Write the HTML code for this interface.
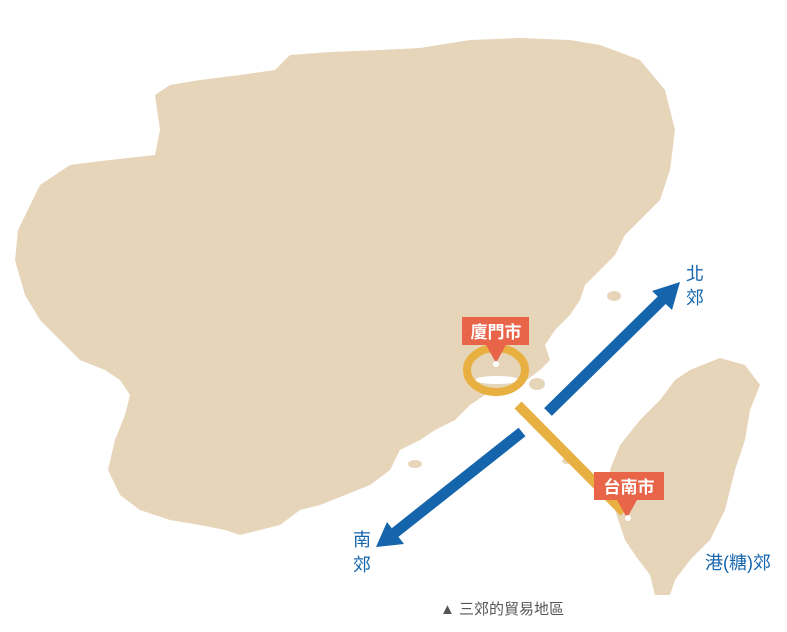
<!DOCTYPE html>
<html><head><meta charset="utf-8"><style>
body{margin:0;background:#fff;}
svg text{font-family:"Liberation Sans","Noto Sans CJK TC",sans-serif;}
</style></head><body>
<svg width="787" height="627" viewBox="0 0 787 627" xmlns="http://www.w3.org/2000/svg">
<g fill="#e6d5b9">
<polygon points="40,185 70,165 110,160 155,155 160,130 155,95 170,85 200,80 240,75 275,70 290,55 330,52 380,50 420,48 470,40 520,38 570,40 600,45 640,60 665,90 675,130 670,170 660,200 640,220 625,235 615,255 600,270 585,285 580,300 570,315 555,330 545,345 550,360 540,370 520,385 500,390 485,395 470,405 455,420 435,430 420,440 400,450 390,470 370,485 345,495 320,505 300,510 280,525 260,530 240,535 225,530 200,525 170,520 140,510 120,495 108,470 115,440 125,415 130,395 120,380 105,370 80,360 60,340 40,320 25,295 15,260 18,230"/>
<polygon points="690,370 720,358 745,365 760,385 750,410 745,440 735,470 725,510 710,540 690,560 675,580 670,595 655,595 650,575 635,555 625,540 615,510 610,470 620,445 640,420 660,400 675,380"/>
<ellipse cx="614" cy="296" rx="7" ry="5"/>
<ellipse cx="537" cy="384" rx="8" ry="6"/>
<ellipse cx="415" cy="464" rx="7" ry="4"/>
<ellipse cx="567" cy="461" rx="5" ry="3"/>
</g>
<ellipse cx="497" cy="380" rx="22" ry="4" fill="#fff"/>
<ellipse cx="496" cy="370" rx="29" ry="22" fill="none" stroke="#e8b040" stroke-width="8"/>
<line x1="518" y1="405" x2="624" y2="512" stroke="#e8b040" stroke-width="10"/>
<g fill="#1565ad" stroke="#1565ad">
<line x1="548" y1="412" x2="665" y2="297" stroke-width="11"/>
<polygon points="680,282 652,291 672,310" stroke="none"/>
<line x1="522" y1="432" x2="392" y2="535" stroke-width="11"/>
<polygon points="376,547 404,544 387,522" stroke="none"/>
</g>
<g fill="#e8654a">
<rect x="462" y="317" width="67" height="28"/>
<polygon points="486,345 506,345 496,363"/>
<rect x="594" y="472" width="70" height="28"/>
<polygon points="617,500 637,500 627,518"/>
</g>
<circle cx="496" cy="364" r="3" fill="#fff"/>
<circle cx="628" cy="518" r="3" fill="#fff"/>
<g fill="#fff" font-size="17" font-weight="bold" text-anchor="middle">
<text x="496" y="338">廈門市</text>
<text x="629" y="493">台南市</text>
</g>
<g fill="#1565ad" font-size="18">
<text x="686" y="280">北</text>
<text x="686" y="304">郊</text>
<text x="353" y="546">南</text>
<text x="353" y="571">郊</text>
<text x="705" y="569">港(糖)郊</text>
</g>
<text x="440" y="614" font-size="15" fill="#555">▲ 三郊的貿易地區</text>
</svg>
</body></html>
